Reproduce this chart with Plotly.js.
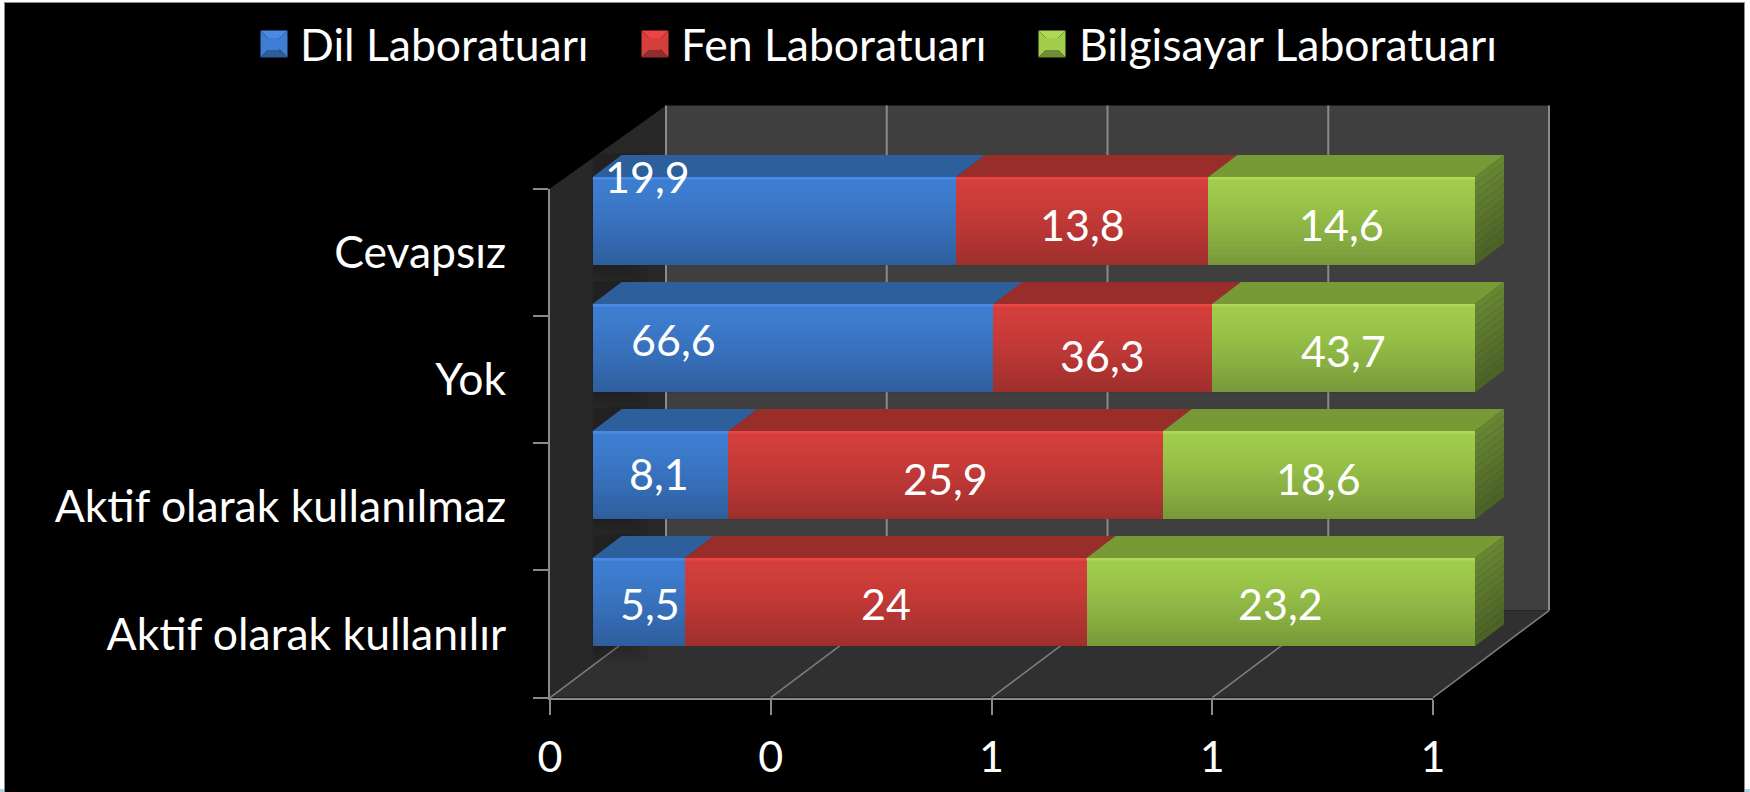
<!DOCTYPE html>
<html><head><meta charset="utf-8">
<script src="https://cdn.plot.ly/plotly-3.0.1.min.js"></script>
<style>html,body{margin:0;padding:0;background:#000}#c{width:1750px;height:792px}</style>
</head><body><div id="c"></div>
<script>
var categories = ["Aktif olarak kullanılır","Aktif olarak kullanılmaz","Yok","Cevapsız"];
var seriesNames = ["Dil Laboratuarı","Fen Laboratuarı","Bilgisayar Laboratuarı"];
var dil = [5.5,8.1,66.6,19.9];
var fen = [24,25.9,36.3,13.8];
var bilgisayar = [23.2,18.6,43.7,14.6];
var valueTicks = [0,0.25,0.5,0.75,1];
var valueTickLabels = ["0","0","1","1","1"];

var W=1750,H=792;
var FONT="Lato, Carlito, Calibri, sans-serif";
var px=function(x){return x/W}, py=function(y){return 1-y/H};
var series=[dil,fen,bilgisayar];
var baseCols=["#3e7ed2","#d43f3c","#a1cd4d"];
var topCols=["#2c5f9c","#992d2a","#779a36"];
var hiCols=["#4a8ae4","#ea4540","#aed855"];
var bevelLow=["#2e5c98","#8f2e2c","#6f8e34"];

// plane of the bars
var barPxPerUnitX=882.4, barPxPerRow=127;
var barXRange=[0,1.06], barYRange=[-0.5,3.7];
var barX=[592.6,592.6+barPxPerUnitX*barXRange[1]], barY=[665.6-barPxPerRow*(barYRange[1]-barYRange[0]),665.6];
// front axis frame
var frX=[550,1433], frY=[188.6,697.6];
var depth={x:116,y:87};
var barHeight=0.696, barDx=29/barPxPerUnitX, barDy=22/barPxPerRow;

var shapes=[];
function poly(pts,ref,fill,layer,line){
  var d=pts.map(function(p,i){return (i?"L":"M")+p[0]+","+p[1]}).join(" ")+" Z";
  var s={type:"path",path:d,fillcolor:fill,line:line||{width:0},layer:layer||"below"};
  if(ref==="bar"){s.xref="x";s.yref="y"}else{s.xref="paper";s.yref="paper"}
  return s;
}
function P(x,y){return [px(x),py(y)]}
function seg(x0,y0,x1,y1,col,w){return {type:"line",xref:"paper",yref:"paper",x0:px(x0),y0:py(y0),x1:px(x1),y1:py(y1),line:{color:col,width:w},layer:"below"}}
function rectPx(x0,y0,x1,y1,col){return {type:"rect",xref:"paper",yref:"paper",x0:px(x0),x1:px(x1),y0:py(y1),y1:py(y0),fillcolor:col,line:{width:0},layer:"above"}}

// walls
var bk={x0:frX[0]+depth.x,x1:frX[1]+depth.x,y0:frY[0]-depth.y+4,y1:frY[1]-depth.y};
shapes.push(poly([P(frX[0],frY[0]),P(bk.x0,bk.y0),P(bk.x0,bk.y1),P(frX[0],frY[1])],"p","#282828"));
shapes.push(poly([P(bk.x0,bk.y0),P(bk.x1,bk.y0),P(bk.x1,bk.y1),P(bk.x0,bk.y1)],"p","#3f3f3f"));
shapes.push(poly([P(frX[0],frY[1]),P(frX[1],frY[1]),P(bk.x1,bk.y1),P(bk.x0,bk.y1)],"p","#303030"));
valueTicks.forEach(function(t){
  var fx=frX[0]+t*(frX[1]-frX[0]), bx=fx+depth.x;
  shapes.push(seg(bx,bk.y0,bx,bk.y1,"#8a8a8a",2));
  shapes.push(seg(fx,frY[1],bx,bk.y1,"#7c7c7c",1.6));
});

// soft shadow on the left wall behind the bars' left ends
categories.forEach(function(c,r){
  var yT=r+barHeight/2+barDy,yB=r-barHeight/2;
  [[0.03,0.05],[0.02,0.05],[0.01,0.05]].forEach(function(sh){
    shapes.push(poly([[-sh[0]/2,yT],[barDx+sh[0],yT+0.02],[barDx+sh[0],yB-sh[0]*4],[-sh[0]/2,yB-sh[0]*4]],"bar","rgba(0,0,0,"+sh[1]+")"));
  });
});

// 3D bar faces, from the values
categories.forEach(function(c,r){
  var tot=dil[r]+fen[r]+bilgisayar[r], cum=0;
  var yT=r+barHeight/2,yB=r-barHeight/2;
  series.forEach(function(v,k){
    var a=cum/tot; cum+=v[r]; var b=cum/tot;
    shapes.push(poly([[a,yT],[b,yT],[b+barDx,yT+barDy],[a+barDx,yT+barDy]],"bar",topCols[k]));
    shapes.push({type:"rect",xref:"x",yref:"y",x0:a,x1:b,y0:yT-0.02,y1:yT,fillcolor:hiCols[k],line:{width:0},layer:"above"});
  });
  var N=22;
  for(var i=0;i<N;i++){
    var f=(i+0.5)/N;
    var al=0.26*Math.pow(f,1.35);
    var y1=yT-0.02-(i/N)*(barHeight-0.02), y0=yT-0.02-((i+1)/N)*(barHeight-0.02);
    shapes.push({type:"rect",xref:"x",yref:"y",x0:0,x1:1,y0:y0,y1:y1,fillcolor:"rgba(0,0,0,"+al.toFixed(3)+")",line:{width:0},layer:"above"});
  }
  var M=12;
  for(var j=0;j<M;j++){
    var t1=yT-(j/M)*barHeight,t0=yT-((j+1)/M)*barHeight;
    var g=j/(M-1);
    var col="rgb("+Math.round(104-28*g)+","+Math.round(134-36*g)+","+Math.round(50-12*g)+")";
    shapes.push(poly([[1,t1],[1+barDx,t1+barDy],[1+barDx,t0+barDy],[1,t0]],"bar",col));
  }
});

var legendIds=["legend","legend2","legend3"];
var traces=series.map(function(v,k){return {
  type:"bar",orientation:"h",name:seriesNames[k],y:categories,x:v,legend:legendIds[k],
  marker:{color:baseCols[k],line:{width:0}},xaxis:"x",yaxis:"y",hoverinfo:"skip",cliponaxis:false,width:barHeight
}});
traces.push({type:"scatter",mode:"markers",x:[0,1],y:[categories[0],categories[3]],xaxis:"x2",yaxis:"y2",marker:{opacity:0,size:1},showlegend:false,hoverinfo:"skip"});

// data label nudges in pixels (positive = down)
var shiftsDil=[[11,1],[-2,-2],[-120,-9],[-127,-45]];
var shiftsFen=[[0,1],[0,3],[0,7],[0,3]];
var shiftsBil=[[0,1],[0,3],[0,2],[0,3]];
var shifts=[shiftsDil,shiftsFen,shiftsBil];
var annotations=[];
categories.forEach(function(c,r){
  var tot=dil[r]+fen[r]+bilgisayar[r],cum=0;
  series.forEach(function(v,k){
    var mid=(cum+v[r]/2)/tot; cum+=v[r];
    annotations.push({xref:"x",yref:"y",x:mid,y:r,text:String(v[r]).replace(".",","),showarrow:false,
      xshift:shifts[k][r][0],yshift:-shifts[k][r][1],font:{family:FONT,size:43,color:"#fff"}});
  });
});

// legend bevel squares
var legX=[274,655,1052], legY=44, legS=13.5;
legX.forEach(function(cx,k){
  var a=legS,cols=[hiCols[k],baseCols[k],bevelLow[k]];
  shapes.push(poly([P(cx-a,legY-a),P(cx+a,legY-a),P(cx,legY)],"p",cols[0],"above"));
  shapes.push(poly([P(cx-a,legY-a),P(cx,legY),P(cx-a,legY+a)],"p",cols[1],"above"));
  shapes.push(poly([P(cx+a,legY-a),P(cx,legY),P(cx+a,legY+a)],"p",cols[1],"above"));
  shapes.push(poly([P(cx-a,legY+a),P(cx+a,legY+a),P(cx,legY)],"p",cols[2],"above"));
});

// screenshot frame
shapes.push(rectPx(0,0,4,792,"#ffffff"));
shapes.push(rectPx(1745,0,1750,792,"#ffffff"));
shapes.push(rectPx(0,0,1750,2,"#ffffff"));
shapes.push(rectPx(4,2,5,792,"#8c8c8c"));
shapes.push(rectPx(1744,2,1745,792,"#8c8c8c"));
shapes.push(rectPx(4,2,1745,3,"#8c8c8c"));
shapes.push(rectPx(0,789,4,792,"#a9d3e8"));
shapes.push(rectPx(1745,789,1750,792,"#a9d3e8"));

function legendAt(x){return {orientation:"h",x:px(x),xanchor:"left",y:py(44),yanchor:"middle",
  font:{family:FONT,size:44.5,color:"#fff"},bgcolor:"rgba(0,0,0,0)",itemwidth:44,borderwidth:0}}

var layout={
  width:W,height:H,margin:{l:0,r:0,t:0,b:0,pad:0},autosize:false,
  paper_bgcolor:"#000",plot_bgcolor:"rgba(0,0,0,0)",
  barmode:"stack",barnorm:"fraction",
  font:{family:FONT,color:"#fff",size:40},
  showlegend:true,
  legend:legendAt(246),legend2:legendAt(627),legend3:legendAt(1025),
  xaxis:{domain:[px(barX[0]),px(barX[1])],range:barXRange,visible:false,fixedrange:true,anchor:"y"},
  yaxis:{domain:[py(barY[1]),py(barY[0])],type:"category",categoryorder:"array",categoryarray:categories,range:barYRange,visible:false,fixedrange:true,anchor:"x"},
  xaxis2:{domain:[px(frX[0]),px(frX[1])],range:[0,1],anchor:"y2",tickmode:"array",tickvals:valueTicks,ticktext:valueTickLabels,
    ticks:"outside",ticklen:15,tickwidth:2,tickcolor:"#8a8a8a",showline:true,linecolor:"#8a8a8a",linewidth:2,showgrid:false,zeroline:false,
    ticklabelstandoff:6,tickfont:{family:FONT,size:43,color:"#fff"},fixedrange:true},
  yaxis2:{domain:[py(frY[1]),py(frY[0])],type:"category",categoryorder:"array",categoryarray:categories,range:[-0.5,3.5],anchor:"x2",
    tickson:"boundaries",ticks:"outside",ticklen:15,tickwidth:2,tickcolor:"#8a8a8a",showline:true,linecolor:"#8a8a8a",linewidth:2,showgrid:false,zeroline:false,
    ticklabelstandoff:33,tickfont:{family:FONT,size:44.5,color:"#fff"},fixedrange:true},
  shapes:shapes,annotations:annotations
};
Plotly.newPlot("c",traces,layout,{displayModeBar:false,staticPlot:true,responsive:false});
</script></body></html>
